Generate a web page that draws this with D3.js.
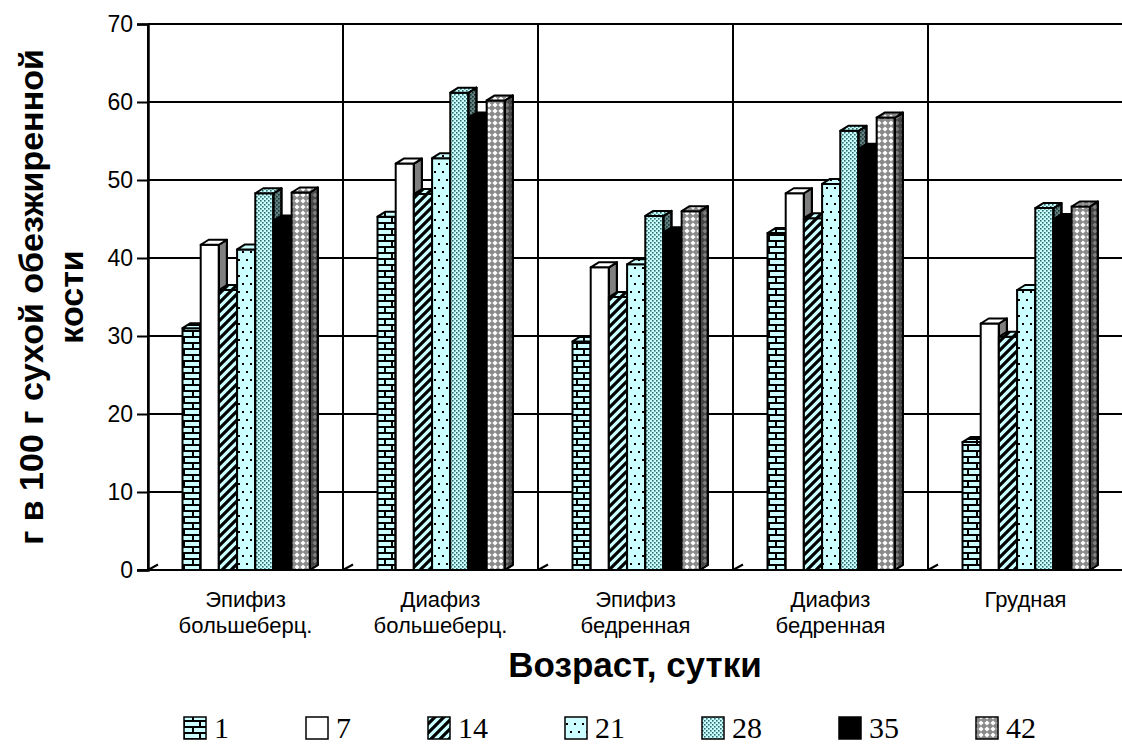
<!DOCTYPE html>
<html>
<head>
<meta charset="utf-8">
<script src="https://cdn.jsdelivr.net/npm/d3@7"></script>
<style>
  body { margin: 0; background: #fff; }
  svg { display: block; }
</style>
</head>
<body>
<svg id="chart" width="1122" height="746"></svg>
<script>
// Categories (bone sections) and ages in days
const categories = ["Эпифиз\nбольшеберц.", "Диафиз\nбольшеберц.", "Эпифиз\nбедренная", "Диафиз\nбедренная", "Грудная"];
const seriesNames = ["1", "7", "14", "21", "28", "35", "42"];

// g per 100 g of dry defatted bone, one array per age
const day1  = [31.0, 45.3, 29.3, 43.2, 16.4];
const day7  = [41.7, 52.1, 38.8, 48.3, 31.6];
const day14 = [35.9, 48.2, 35.0, 45.1, 29.9];
const day21 = [41.1, 52.8, 39.2, 49.5, 35.9];
const day28 = [48.3, 61.2, 45.4, 56.3, 46.4];
const day35 = [44.8, 58.0, 43.3, 54.0, 45.0];
const day42 = [48.4, 60.2, 46.0, 58.0, 46.6];
const seriesValues = [day1, day7, day14, day21, day28, day35, day42];

const yTicks = [0, 10, 20, 30, 40, 50, 60, 70];
const yTitle = ["г в 100 г сухой обезжиренной", "кости"];
const xTitle = "Возраст, сутки";

const svg = d3.select("#chart");
const W = 1122, H = 746;
const plot = { left: 148, right: 1123, top: 24, bottom: 570 };
const depth = { dx: 8, dy: -5 };

const y = d3.scaleLinear().domain([0, 70]).range([plot.bottom, plot.top]);
const x = d3.scaleBand().domain(categories).range([plot.left, plot.right]).padding(0);
const inner = x.bandwidth();
const x1 = d3.scaleBand().domain(seriesNames).range([inner * 0.177, inner * 0.83]).padding(0);

// ---- fill patterns ----
const defs = svg.append("defs");
const CYAN = "#ccffff";

function pat(id, w, h, draw) {
  const p = defs.append("pattern").attr("id", id)
    .attr("patternUnits", "userSpaceOnUse").attr("width", w).attr("height", h);
  draw(p);
}
pat("p-brick", 16, 12, p => {
  p.append("rect").attr("width", 16).attr("height", 12).attr("fill", CYAN);
  p.append("path").attr("d", "M0,1H16 M0,7H16 M8,1V7 M1,7V13")
    .attr("stroke", "#000").attr("stroke-width", 2).attr("fill", "none");
});
pat("p-white", 4, 4, p => {
  p.append("rect").attr("width", 4).attr("height", 4).attr("fill", "#fff");
});
pat("p-stripe", 9, 9, p => {
  p.append("rect").attr("width", 9).attr("height", 9).attr("fill", CYAN);
  p.append("path").attr("d", "M-2,11 L11,-2 M-2,2 L2,-2 M7,11 L11,7")
    .attr("stroke", "#000").attr("stroke-width", 3.2).attr("fill", "none");
});
pat("p-sparse", 8, 16, p => {
  p.append("rect").attr("width", 8).attr("height", 16).attr("fill", CYAN);
  p.append("rect").attr("x", 6).attr("y", 3).attr("width", 2).attr("height", 2).attr("fill", "#000");
  p.append("rect").attr("x", 2).attr("y", 11).attr("width", 2).attr("height", 2).attr("fill", "#000");
});
pat("p-dense", 4, 4, p => {
  p.append("rect").attr("width", 4).attr("height", 4).attr("fill", CYAN);
  p.append("rect").attr("x", 0).attr("y", 0).attr("width", 1.6).attr("height", 1.6).attr("fill", "#2c6e6e");
  p.append("rect").attr("x", 2).attr("y", 2).attr("width", 1.6).attr("height", 1.6).attr("fill", "#2c6e6e");
});
pat("p-black", 4, 4, p => {
  p.append("rect").attr("width", 4).attr("height", 4).attr("fill", "#000");
});
pat("p-check", 6, 6, p => {
  p.append("rect").attr("width", 6).attr("height", 6).attr("fill", "#8a8a8a");
  p.append("polygon").attr("points", "3,0.4 5.6,3 3,5.6 0.4,3").attr("fill", "#fff");
});
const fills = ["p-brick", "p-white", "p-stripe", "p-sparse", "p-dense", "p-black", "p-check"];
const colorOf = d3.scaleOrdinal().domain(seriesNames).range(fills.map(f => `url(#${f})`));

// ---- back wall: gridlines and category dividers ----
const grid = svg.append("g");
grid.selectAll("line.h").data(yTicks.filter(t => t > 0)).join("line")
  .attr("x1", plot.left).attr("x2", W)
  .attr("y1", d => y(d)).attr("y2", d => y(d))
  .attr("stroke", "#000").attr("stroke-width", 2);
grid.selectAll("line.v").data(categories).join("line")
  .attr("x1", d => x(d)).attr("x2", d => x(d))
  .attr("y1", plot.top).attr("y2", plot.bottom)
  .attr("stroke", "#000").attr("stroke-width", 2);
// short floor-depth strokes at every divider
grid.selectAll("line.d").data(categories).join("line")
  .attr("x1", d => x(d)).attr("x2", d => x(d) + 10)
  .attr("y1", plot.bottom).attr("y2", plot.bottom - 5.5)
  .attr("stroke", "#000").attr("stroke-width", 2);
// baseline
grid.append("line").attr("x1", 137).attr("x2", W)
  .attr("y1", plot.bottom).attr("y2", plot.bottom)
  .attr("stroke", "#000").attr("stroke-width", 2);

// ---- y axis ticks and labels ----
const yAxis = d3.axisLeft(y).tickValues(yTicks).tickSize(11).tickPadding(4).tickFormat(d3.format("d"));
const yg = svg.append("g").attr("transform", `translate(${plot.left},0)`).call(yAxis);
yg.select(".domain").attr("stroke", "#000").attr("stroke-width", 2.5);
yg.selectAll(".tick line").attr("stroke", "#000").attr("stroke-width", 2);
yg.selectAll(".tick text").attr("font-family", "Liberation Sans, Arial, sans-serif")
  .attr("font-size", 23).attr("fill", "#000");

// ---- 3D columns ----
const bars = svg.append("g").attr("stroke", "#000").attr("stroke-width", 2).attr("stroke-linejoin", "round");
categories.forEach((cat, ci) => {
  seriesNames.forEach((s, si) => {
    const v = seriesValues[si][ci];
    const x0 = x(cat) + x1(s), w = x1.bandwidth();
    const yt = y(v), yb = y(0);
    const { dx, dy } = depth;
    const g = bars.append("g");
    const fill = colorOf(s);
    // front
    g.append("rect").attr("x", x0).attr("y", yt).attr("width", w).attr("height", yb - yt).attr("fill", fill);
    // side
    const side = `${x0 + w},${yt} ${x0 + w + dx},${yt + dy} ${x0 + w + dx},${yb + dy} ${x0 + w},${yb}`;
    g.append("polygon").attr("points", side).attr("fill", fill);
    g.append("polygon").attr("points", side).attr("fill", "#000").attr("fill-opacity", 0.5);
    // top
    const top = `${x0},${yt} ${x0 + dx},${yt + dy} ${x0 + w + dx},${yt + dy} ${x0 + w},${yt}`;
    g.append("polygon").attr("points", top).attr("fill", fill);
  });
});

// ---- category labels ----
const catG = svg.append("g").attr("font-family", "Liberation Sans, Arial, sans-serif")
  .attr("font-size", 22).attr("text-anchor", "middle").attr("fill", "#000");
categories.forEach(cat => {
  const t = catG.append("text").attr("x", x(cat) + inner / 2).attr("y", 607);
  cat.split("\n").forEach((ln, i) => {
    t.append("tspan").attr("x", x(cat) + inner / 2).attr("dy", i === 0 ? 0 : 26).text(ln);
  });
});

// ---- axis titles ----
svg.append("text").attr("x", (plot.left + W) / 2).attr("y", 677)
  .attr("text-anchor", "middle").attr("font-family", "Liberation Sans, Arial, sans-serif")
  .attr("font-weight", "bold").attr("font-size", 35).text(xTitle);

const yt = svg.append("g").attr("transform", `translate(43,${(plot.top + plot.bottom) / 2}) rotate(-90)`)
  .attr("font-family", "Liberation Sans, Arial, sans-serif").attr("font-weight", "bold")
  .attr("font-size", 34).attr("text-anchor", "middle");
yTitle.forEach((ln, i) => yt.append("text").attr("x", 0).attr("y", i * 40).text(ln));

// ---- legend ----
const leg = svg.append("g").attr("font-family", "Liberation Serif, Times New Roman, serif").attr("font-size", 30);
let lx = 184;
const sw = 22, ly = 717;
seriesNames.forEach(s => {
  leg.append("rect").attr("x", lx).attr("y", ly).attr("width", sw).attr("height", sw)
    .attr("fill", colorOf(s)).attr("stroke", "#000").attr("stroke-width", 1.5);
  const t = leg.append("text").attr("x", lx + sw + 8).attr("y", ly + 21).text(s);
  lx += sw + 8 + t.node().getComputedTextLength() + 77;
});
</script>
</body>
</html>
